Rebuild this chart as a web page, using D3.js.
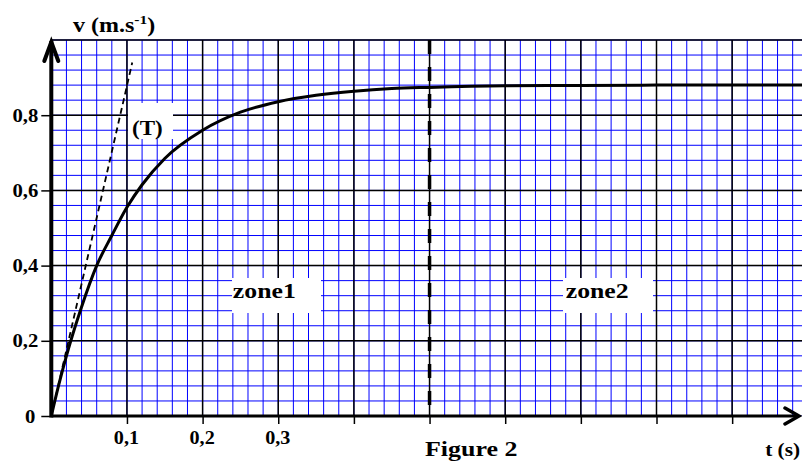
<!DOCTYPE html>
<html>
<head>
<meta charset="utf-8">
<script src="https://cdn.jsdelivr.net/npm/d3@7"></script>
<style>
  html, body { margin: 0; padding: 0; background: #fff; }
  svg { display: block; }
  text { font-family: 'Liberation Serif', 'Times New Roman', serif; font-weight: bold; fill: #000; }
</style>
</head>
<body>
<div id="chart"></div>
<script>
// values: speed v (m/s) against time t (s)
const curveT = [0, 0.01, 0.02, 0.04, 0.06, 0.08, 0.1, 0.12, 0.15, 0.2, 0.25, 0.3, 0.35, 0.4, 0.45, 0.5, 0.6, 0.7, 0.8, 0.9, 1.0];
const curveV = [0, 0.084, 0.16, 0.29, 0.40, 0.48, 0.555, 0.615, 0.685, 0.76, 0.808, 0.836, 0.853, 0.864, 0.871, 0.874, 0.878, 0.879, 0.88, 0.88, 0.88];

// tangent (T) at the origin
const tangentT = [0, 0.107];
const tangentV = [0, 0.94];

// boundary between the two zones
const zoneLimit = 0.5;

const xTickValues = [0.1, 0.2, 0.3];
const xMajorLines = [0.1, 0.2, 0.3, 0.4, 0.5, 0.6, 0.7, 0.8, 0.9, 1.0];
const yTickValues = [0, 0.2, 0.4, 0.6, 0.8];
const yMajorLines = [0.2, 0.4, 0.6, 0.8, 1.0];

const zoneLabels = ['zone1', 'zone2'];
const zoneLabelT = [0.24, 0.68];
const zoneLabelV = [0.315, 0.315];

const W = 802;
const H = 463;
const fontColour = '#000';

const svg = d3.select('#chart')
    .append('svg')
    .attr('width', W)
    .attr('height', H)
    .attr('viewBox', `0 0 ${W} ${H}`);

svg.append('rect').attr('width', W).attr('height', H).attr('fill', '#fff');

const x = d3.scaleLinear().domain([0, 1]).range([51.3, 807.8]);
const y = d3.scaleLinear().domain([0, 1]).range([416, 40]);

const commaFmt = (d) => (d === 0 ? '0' : d3.format('.1f')(d).replace('.', ','));

svg.append('defs').append('clipPath').attr('id', 'plot')
    .append('rect').attr('x', 0).attr('y', 0).attr('width', W).attr('height', 416);

const grid = svg.append('g').attr('clip-path', 'url(#plot)');

// minor blue grid
const minorX = d3.range(0, 51).map((i) => i * 0.02);
const minorY = d3.range(0, 26).map((i) => i * 0.04);

grid.selectAll('line.minor-x')
    .data(minorX)
    .enter()
    .append('line')
    .attr('x1', (d) => x(d)).attr('x2', (d) => x(d))
    .attr('y1', y(0)).attr('y2', y(1))
    .attr('stroke', '#0000ff')
    .attr('stroke-width', 1);

grid.selectAll('line.minor-y')
    .data(minorY)
    .enter()
    .append('line')
    .attr('x1', x(0)).attr('x2', W)
    .attr('y1', (d) => y(d)).attr('y2', (d) => y(d))
    .attr('stroke', '#0000ff')
    .attr('stroke-width', 1);

// major black grid
grid.selectAll('line.major-x')
    .data(xMajorLines)
    .enter()
    .append('line')
    .attr('x1', (d) => x(d)).attr('x2', (d) => x(d))
    .attr('y1', y(0)).attr('y2', y(1))
    .attr('stroke', '#000')
    .attr('stroke-width', 1.5);

grid.selectAll('line.major-y')
    .data(yMajorLines)
    .enter()
    .append('line')
    .attr('x1', x(0)).attr('x2', W)
    .attr('y1', (d) => y(d)).attr('y2', (d) => y(d))
    .attr('stroke', '#000')
    .attr('stroke-width', 1.5);

// white boxes behind the labels
svg.append('rect').attr('x', 128).attr('y', 103).attr('width', 45).attr('height', 36).attr('fill', '#fff');
svg.append('rect').attr('x', 232).attr('y', 278).attr('width', 89).attr('height', 35).attr('fill', '#fff');
svg.append('rect').attr('x', 563).attr('y', 278).attr('width', 90).attr('height', 35).attr('fill', '#fff');

// tangent
svg.append('path')
    .datum(d3.zip(tangentT, tangentV))
    .attr('fill', 'none')
    .attr('stroke', '#000')
    .attr('stroke-width', 1.8)
    .attr('stroke-dasharray', '6,4')
    .attr('d', d3.line().x((d) => x(d[0])).y((d) => y(d[1])));

// speed curve
svg.append('path')
    .datum(d3.zip(curveT, curveV))
    .attr('fill', 'none')
    .attr('stroke', '#000')
    .attr('stroke-width', 3)
    .attr('d', d3.line().curve(d3.curveMonotoneX).x((d) => x(d[0])).y((d) => y(d[1])));

// zone limit
svg.append('line')
    .attr('x1', x(zoneLimit)).attr('x2', x(zoneLimit))
    .attr('y1', y(1)).attr('y2', y(0.024))
    .attr('stroke', '#000')
    .attr('stroke-width', 3.5)
    .attr('stroke-dasharray', '14,13');

// axes
const yAxis = svg.append('g')
    .attr('transform', `translate(${x(0)},0)`)
    .call(d3.axisLeft(y).tickValues(yTickValues).tickFormat(commaFmt).tickSize(10).tickSizeOuter(0));
yAxis.select('.domain').remove();
yAxis.selectAll('line').attr('stroke', fontColour).attr('stroke-width', 1.5);
yAxis.selectAll('text')
    .attr('x', null)
    .attr('dy', null)
    .attr('font-size', 18)
    .attr('fill', fontColour)
    .attr('transform', (d) => `translate(${d === 0 ? -16 : -13},6) scale(1.15,1)`);

const xAxis = svg.append('g')
    .attr('transform', `translate(0,${y(0)})`)
    .call(d3.axisBottom(x).tickValues(xMajorLines).tickFormat((d) => (xTickValues.includes(d) ? commaFmt(d) : '')).tickSize(8).tickSizeOuter(0));
xAxis.select('.domain').remove();
xAxis.selectAll('line').attr('stroke', fontColour).attr('stroke-width', 1.5);
xAxis.selectAll('text')
    .attr('y', null)
    .attr('dy', null)
    .attr('font-size', 18)
    .attr('fill', fontColour)
    .attr('transform', 'translate(-1,28) scale(1.12,1)');

// axis lines with arrows
svg.append('line')
    .attr('x1', x(0)).attr('x2', 799)
    .attr('y1', y(0)).attr('y2', y(0))
    .attr('stroke', '#000').attr('stroke-width', 3);
svg.append('path')
    .attr('d', `M785,${y(0) - 8}L799,${y(0)}L785,${y(0) + 8}`)
    .attr('fill', 'none').attr('stroke', '#000').attr('stroke-width', 3.5)
    .attr('stroke-linecap', 'round');

svg.append('line')
    .attr('x1', x(0)).attr('x2', x(0))
    .attr('y1', y(0) + 1.5).attr('y2', y(1) + 1)
    .attr('stroke', '#000').attr('stroke-width', 4);
svg.append('path')
    .attr('d', `M${x(0) - 7},61L${x(0)},42L${x(0) + 7},61`)
    .attr('fill', 'none').attr('stroke', '#000').attr('stroke-width', 4)
    .attr('stroke-linecap', 'round');

// labels
function label(txt, px, py, size, sx, anchor) {
    return svg.append('text')
        .attr('transform', `translate(${px},${py}) scale(${sx},1)`)
        .attr('font-size', size)
        .attr('text-anchor', anchor || 'start')
        .text(txt);
}

const vLabel = svg.append('text')
    .attr('transform', 'translate(73,32) scale(1.2,1)')
    .attr('font-size', 20);
vLabel.append('tspan').text('v (m.s');
vLabel.append('tspan').attr('font-size', 13).attr('dy', -8).text('-1');
vLabel.append('tspan').attr('dy', 8).text(')');

label('t (s)', 800, 456, 19, 1.12, 'end');
label('Figure 2', 425, 456, 22, 1.18);
label('(T)', 132, 135, 20, 1.15);

zoneLabels.forEach((z, i) => {
    label(z, x(zoneLabelT[i]), y(zoneLabelV[i]), 22, 1.17);
});
</script>
</body>
</html>
